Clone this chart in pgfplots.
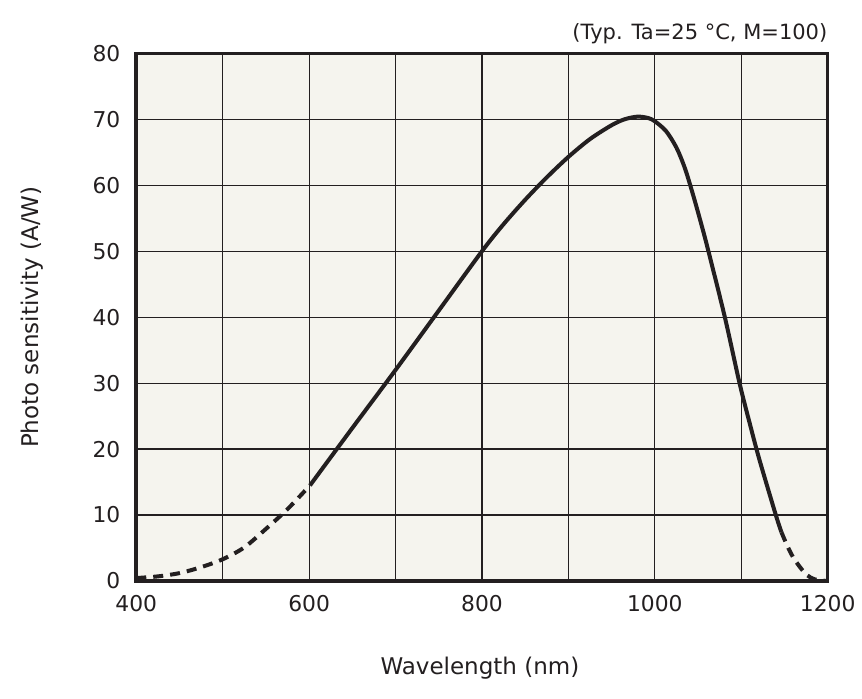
\documentclass[border=0pt]{standalone}
\usepackage{fontspec}
\setmainfont{DejaVu Sans}
\usepackage{pgfplots}
\pgfplotsset{compat=1.18}
\definecolor{ink}{HTML}{231F20}
\definecolor{bgc}{HTML}{F5F4EE}
\begin{document}
\begin{tikzpicture}
\useasboundingbox (-68.15pt,-58.5pt) rectangle (362.85pt,290.5pt);
\begin{axis}[
  name=main,
  width=345.7pt, height=263.85pt, scale only axis,
  xmin=400, xmax=1200, ymin=0, ymax=80,
  xtick={400,600,...,1200},
  minor xtick={500,700,900,1100},
  ytick={0,10,...,80},
  grid=both,
  major grid style={ink, line width=0.6pt},
  minor grid style={ink, line width=0.6pt},
  major tick length=0pt, minor tick length=0pt,
  axis line style={ink, line width=1.8pt},
  axis background/.style={fill=bgc},
  ticklabel style={font=\fontsize{10.9}{12}\selectfont, text=ink, inner sep=0pt},
  xticklabel style={anchor=north, yshift=-7pt},
  yticklabel style={anchor=east, xshift=-7.8pt},
  /pgf/number format/assume math mode=true,
  xticklabel={\pgfmathprintnumber[1000 sep={}]{\tick}},
  xlabel={Wavelength (nm)},
  ylabel={Photo sensitivity (A/W)},
  label style={font=\fontsize{11.5}{13}\selectfont, text=ink},
  xlabel style={at={(axis description cs:0.497,-0.1649)}, anchor=center},
  ylabel style={at={(axis description cs:-0.150,0.5)}, anchor=center},
]
\addplot[ink, line width=2pt, dash pattern=on 5pt off 3.5pt, smooth] coordinates {
(400,0.45)(425,0.7)(450,1.2)(475,2.1)(500,3.3)(525,5.1)(550,7.9)(575,10.9)(601,14.5)
};
\addplot[ink, line width=2pt, smooth] coordinates {
(601,14.5)(650,23.2)(700,32.0)(750,41.0)(800,50.0)(825,54.1)(850,57.8)(875,61.2)(900,64.3)(925,67.0)(950,69.1)(965,70.0)(980,70.4)(992,70.2)(1000,69.7)(1013,68.2)(1025,65.7)(1035,62.5)(1045,58.2)(1055,53.5)(1062,50)(1081,40)(1098,30)(1110,23.8)(1121,18.4)(1140,10)(1146.5,7.4)
};
\addplot[ink, line width=2pt, dash pattern=on 5pt off 3.5pt, smooth] coordinates {
(1146.5,7.4)(1153,5.4)(1160,3.6)(1168,2.1)(1176,0.9)(1185,0.25)(1199,0)
};
\end{axis}
\node[anchor=base east, inner sep=0pt, font=\fontsize{10.5}{12}\selectfont, text=ink] at ([yshift=7pt]main.north east) {(Typ. Ta=25 °C, M=100)};
\end{tikzpicture}
\end{document}
